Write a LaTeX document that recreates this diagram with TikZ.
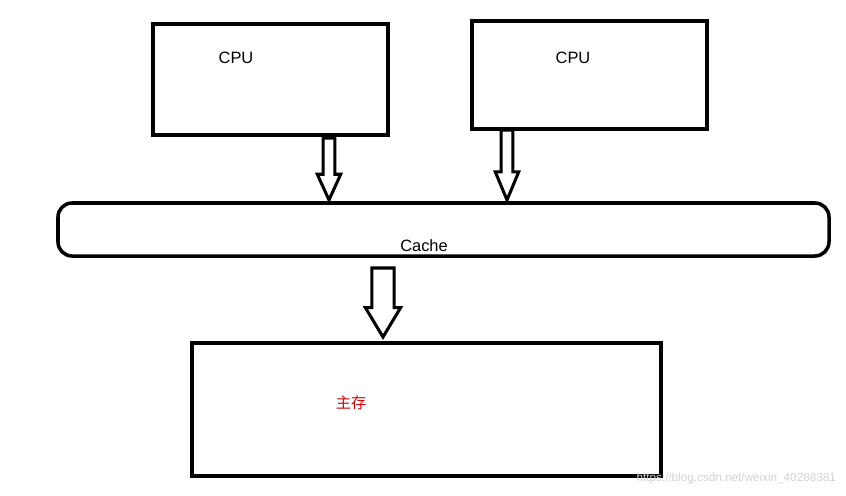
\documentclass[tikz,border=0pt]{standalone}
\usepackage{fontspec}
\setmainfont{Liberation Sans}
\newfontfamily\cjk{Noto Sans CJK SC}
\usetikzlibrary{calc, positioning}
\tikzset{
	unit/.style={draw=black, line width=3pt, minimum width=#1, inner sep=0pt},
	blockline/.style={draw=black, line width=2.6pt, fill=white, line join=miter},
	lbl/.style={font=\fontsize{14}{16}\selectfont},
}
% start, end, shaft half width, head half width, head length
\newcommand{\blockarrow}[5]{%
	\draw[blockline] let \p1=(#1), \p2=(#2) in
		(\x1-#3,\y1) -- (\x1-#3,\y2+#5) -- (\x1-#4,\y2+#5) -- (\x2,\y2)
		-- (\x1+#4,\y2+#5) -- (\x1+#3,\y2+#5) -- (\x1+#3,\y1) -- cycle;
}

\begin{document}
\begin{tikzpicture}[x=0.03cm, y=-0.03cm]
	\useasboundingbox (0,0) rectangle (846,495);

	\draw[unit] (153,24) rectangle (388,135);
	\node (cpuA) [lbl] at (236,58) {CPU};
	\draw[unit] (472,21) rectangle (707,129);
	\node (cpuB) [lbl] at (573,58) {CPU};
	\draw[unit, rounded corners=12pt] (58,203) rectangle (829,256);
	\node (cache) [lbl] at (424,246) {Cache};
	\draw[unit] (192,343) rectangle (661,476);
	\node (mem) [lbl, text=red!85!black, font=\cjk\fontsize{13}{15}\selectfont] at (351,403) {主存};
	\node (mark) [text=black!18, font=\fontsize{10}{12}\selectfont, anchor=east] at (840,478) {https://blog.csdn.net/weixin\_40288381};

	\coordinate (a1) at (329,138);  \coordinate (b1) at (329,200);
	\coordinate (a2) at (507,130);  \coordinate (b2) at (507,200);
	\coordinate (a3) at (383,268);  \coordinate (b3) at (383,337);

	\blockarrow{a1}{b1}{5pt}{10pt}{22pt}
	\blockarrow{a2}{b2}{5pt}{10pt}{24pt}
	\blockarrow{a3}{b3}{9.5pt}{15pt}{25pt}
\end{tikzpicture}
\end{document}
